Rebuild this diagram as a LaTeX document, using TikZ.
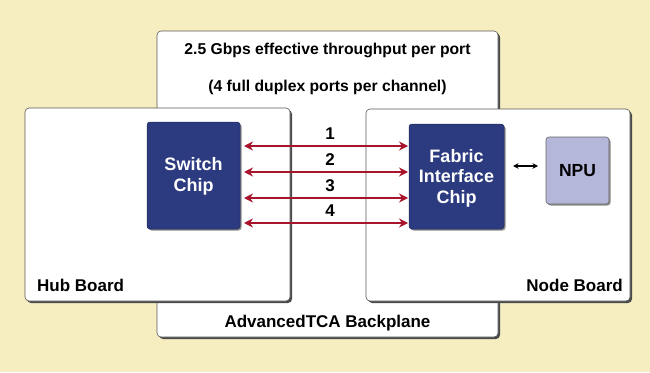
\documentclass[tikz,border=0pt]{standalone}
\usepackage{fontspec}
\setmainfont{Liberation Sans}
\usetikzlibrary{arrows.meta}
\definecolor{beige}{HTML}{F6EDC0}
\definecolor{navy}{HTML}{2C3B7F}
\definecolor{lavender}{HTML}{B4B6DA}
\definecolor{linkred}{HTML}{A8142C}
\definecolor{shade}{HTML}{4A4A4A}
\tikzset{
  board/.style={draw=gray!70!black, line width=0.6pt, fill=white, rounded corners=4pt},
  boardshadow/.style={fill=shade, rounded corners=4pt},
  chip/.style={fill=navy, draw=navy!70!black, line width=0.5pt, rounded corners=3pt},
  chipshadow/.style={fill=black!45, rounded corners=3pt},
  npubox/.style={fill=lavender, draw=gray!80!black, line width=0.6pt, rounded corners=3pt},
  chiptext/.style={text=white, font=\bfseries\fontsize{18}{20.5}\selectfont, align=center, inner sep=0pt},
  label/.style={font=\bfseries\fontsize{17}{19}\selectfont, text=black, inner sep=0pt},
  toplabel/.style={font=\bfseries\fontsize{15.7}{18}\selectfont, text=black, inner sep=0pt},
  link/.style={draw=linkred, line width=2.4pt, {Stealth[length=9pt,width=9pt]}-{Stealth[length=9pt,width=9pt]}},
  smalllink/.style={draw=black, line width=1.5pt, {Stealth[length=5.5pt,width=5.5pt]}-{Stealth[length=5.5pt,width=5.5pt]}}
}
\begin{document}
\begin{tikzpicture}[x=1pt,y=-1pt]
  % canvas
  \fill[beige] (0,0) rectangle (650,372);
  \useasboundingbox (0,0) rectangle (650,372);

  % backplane
  \fill[boardshadow] (159,33) rectangle (500,339);
  \draw[board] (157,31) rectangle (498,337);
  \node[toplabel] (rate) at (327.5,50) {2.5 Gbps effective throughput per port};
  \node[toplabel] (ports) at (327.5,87) {(4 full duplex ports per channel)};
  \node[label] (backplane) at (327.5,323) {AdvancedTCA Backplane};

  % hub board
  \fill[boardshadow] (27,110) rectangle (292,303);
  \draw[board] (25,108) rectangle (290,301);
  \node[label, anchor=west] (hub) at (37,285) {Hub Board};

  % node board
  \fill[boardshadow] (368,111) rectangle (632,303);
  \draw[board] (366,109) rectangle (630,301);
  \node[label, anchor=east] (nodeb) at (623,285) {Node Board};

  % chips
  \fill[chipshadow] (148.5,123.5) rectangle (241.5,230.5);
  \draw[chip] (147,122) rectangle (240,229);
  \node[chiptext] (switch) at (193.5,176.5) {Switch\\Chip};

  \fill[chipshadow] (410.5,125.5) rectangle (505.5,230.5);
  \draw[chip] (409,124) rectangle (504,229);
  \node[chiptext] (fabric) at (456.5,178) {Fabric\\Interface\\Chip};

  \fill[chipshadow] (547.5,138.5) rectangle (610.5,205.5);
  \draw[npubox] (546,137) rectangle (609,204);
  \node[label, font=\bfseries\fontsize{17.5}{19}\selectfont] (npu) at (577.5,170.5) {NPU};

  % links between the chips
  \foreach \y/\n [count=\i] in {146/1,172/2,198/3,223/4} {
    \coordinate (l\i) at (244,\y);
    \coordinate (r\i) at (408,\y);
    \draw[link] (l\i) -- (r\i);
    \node[label] (num\i) at (330,\y-12) {\n};
  }

  % fabric chip to NPU
  \coordinate (fa) at (513,166);
  \coordinate (na) at (538,166);
  \draw[smalllink] (fa) -- (na);
\end{tikzpicture}
\end{document}
